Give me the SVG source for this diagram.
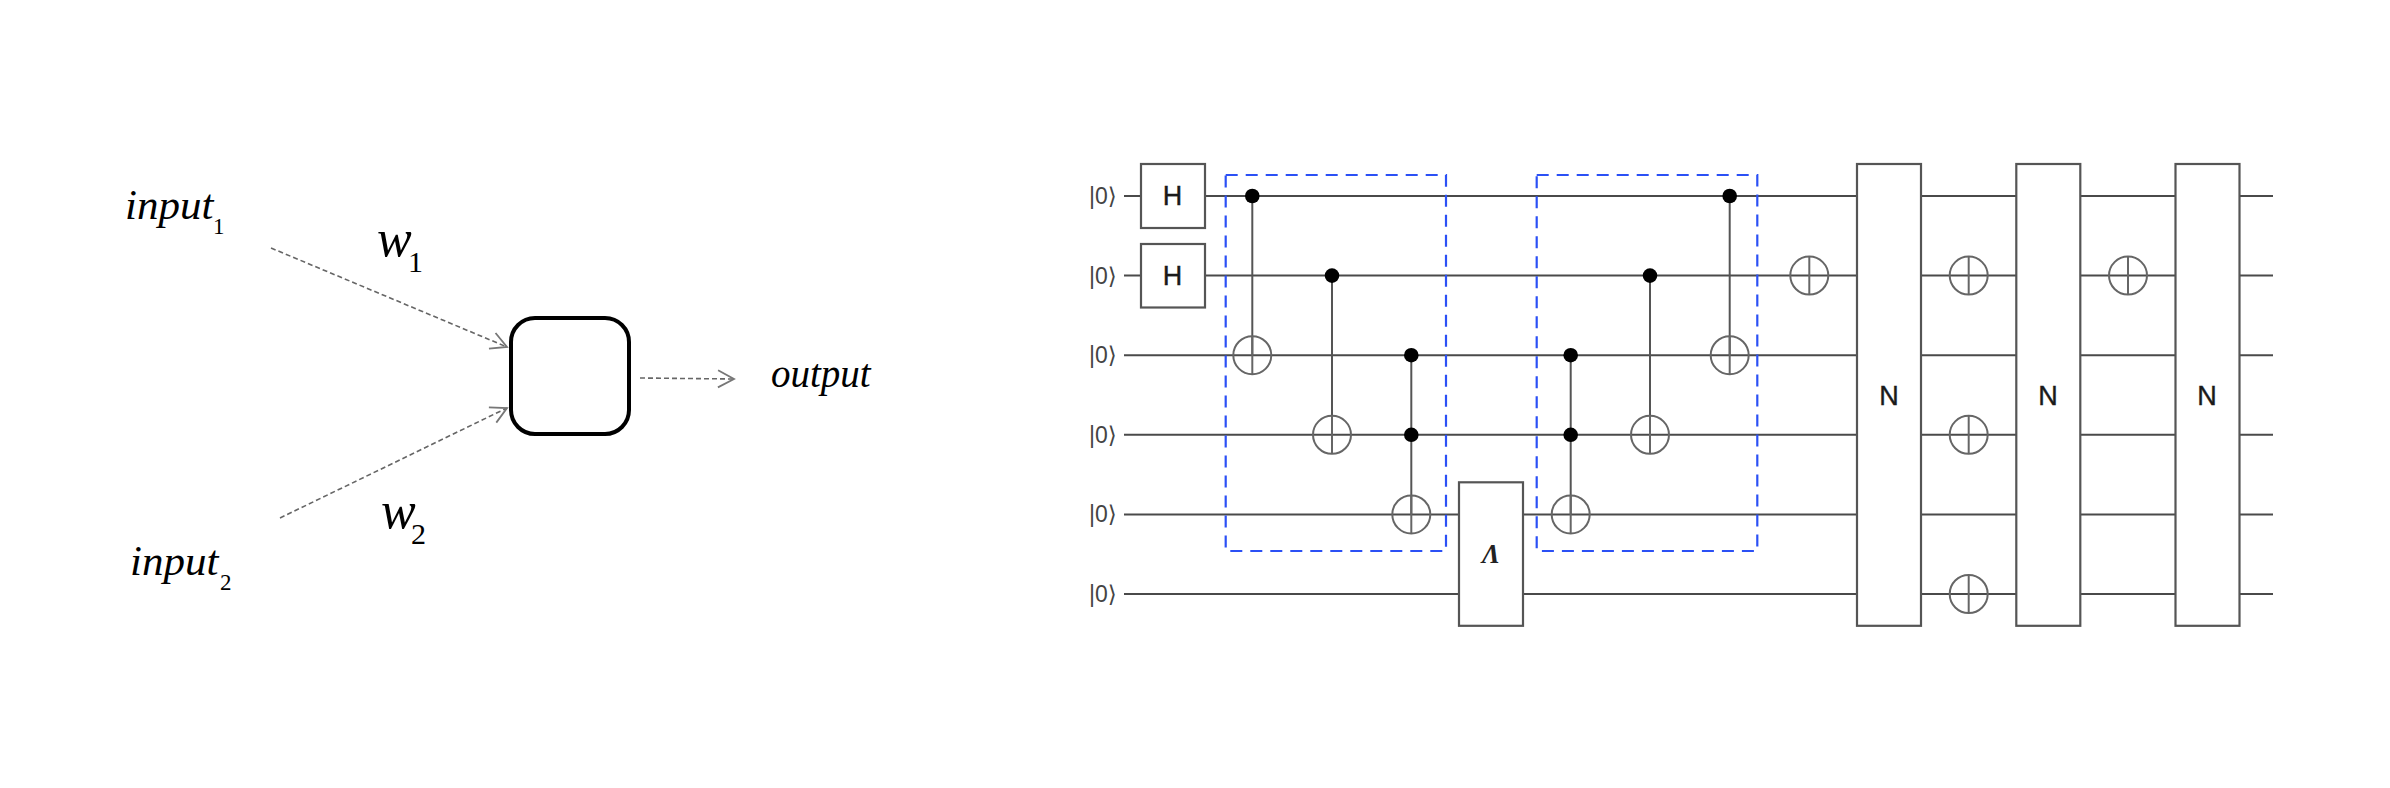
<svg xmlns="http://www.w3.org/2000/svg" width="2390" height="788" viewBox="0 0 2390 788">
<style>
.bg{fill:#fff}
.wire{stroke:#4a4a4a;stroke-width:2;fill:none}
.ctrl{stroke:#555;stroke-width:2;fill:none}
.gate{fill:#fff;stroke:#555;stroke-width:2.200}
.frame{fill:none;stroke:#2b50f5;stroke-width:2.200;stroke-dasharray:12 8}
.xor{fill:none;stroke:#666;stroke-width:2}
.dot{fill:#000}
.flow{stroke:#666;stroke-width:1.600;stroke-dasharray:5 3;fill:none;marker-end:url(#open)}
.neuron{fill:#fff;stroke:#000;stroke-width:4}
.serif{font-family:"Liberation Serif","Times New Roman",serif;font-style:italic;fill:#000}
.sub{font-family:"Liberation Serif","Times New Roman",serif;fill:#000}
.ket{font-family:"Liberation Sans","DejaVu Sans",sans-serif;font-size:23px;fill:#444}
.glabel{font-family:"Liberation Sans",Arial,sans-serif;font-size:27px;fill:#1a1a1a;stroke:#1a1a1a;stroke-width:0.400;text-anchor:middle}
.lam{font-family:"Liberation Serif","Times New Roman",serif;font-size:27px;font-weight:bold;font-style:italic;text-anchor:middle;fill:#222}
</style>
<defs>
<marker id="open" markerUnits="userSpaceOnUse" markerWidth="24" markerHeight="24" refX="20" refY="12" viewBox="0 0 24 24" orient="auto" overflow="visible">
<path d="M4 3.500L20 12L4 20.500" fill="none" stroke="#777" stroke-width="1.800"/>
</marker>
<g id="plus"><circle class="xor" r="19"/><line class="xor" x1="0" y1="-19" x2="0" y2="19"/></g>
<circle id="ctl" class="dot" r="7.300"/>
</defs>
<rect class="bg" x="0" y="0" width="2390" height="788"/>
<g id="connectors">
<line class="flow" x1="271" y1="248" x2="507" y2="347"/>
<line class="flow" x1="280" y1="518" x2="507" y2="408"/>
<line class="flow" x1="640" y1="378" x2="734" y2="379"/>
<line class="wire" x1="1124" y1="196" x2="2273" y2="196"/>
<line class="wire" x1="1124" y1="275.600" x2="2273" y2="275.600"/>
<line class="wire" x1="1124" y1="355.200" x2="2273" y2="355.200"/>
<line class="wire" x1="1124" y1="434.800" x2="2273" y2="434.800"/>
<line class="wire" x1="1124" y1="514.400" x2="2273" y2="514.400"/>
<line class="wire" x1="1124" y1="594" x2="2273" y2="594"/>
<line class="ctrl" x1="1252.300" y1="196" x2="1252.300" y2="355.200"/>
<line class="ctrl" x1="1332" y1="275.600" x2="1332" y2="434.800"/>
<line class="ctrl" x1="1411.300" y1="355.200" x2="1411.300" y2="514.400"/>
<line class="ctrl" x1="1570.700" y1="355.200" x2="1570.700" y2="514.400"/>
<line class="ctrl" x1="1650" y1="275.600" x2="1650" y2="434.800"/>
<line class="ctrl" x1="1729.700" y1="196" x2="1729.700" y2="355.200"/>
</g>
<g id="input1"><text class="serif" x="125" y="219" font-size="43">input</text><text class="sub" x="213" y="234" font-size="23">1</text></g>
<g id="input2"><text class="serif" x="130" y="575" font-size="43">input</text><text class="sub" x="220" y="590" font-size="23">2</text></g>
<g id="w1"><text class="serif" x="377" y="256" font-size="52">w</text><text class="sub" x="408" y="272" font-size="30">1</text></g>
<g id="w2"><text class="serif" x="381" y="528" font-size="52">w</text><text class="sub" x="411" y="544" font-size="30">2</text></g>
<g id="neuron"><rect class="neuron" x="511" y="318" width="118" height="116" rx="24"/></g>
<g id="output"><text class="serif" x="771" y="387" font-size="39">output</text></g>
<g id="kets">
<text class="ket" x="1089" y="204">|0⟩</text>
<text class="ket" x="1089" y="284">|0⟩</text>
<text class="ket" x="1089" y="363">|0⟩</text>
<text class="ket" x="1089" y="443">|0⟩</text>
<text class="ket" x="1089" y="522">|0⟩</text>
<text class="ket" x="1089" y="602">|0⟩</text>
</g>
<g id="H1"><rect class="gate" x="1141" y="164" width="64" height="64"/><text class="glabel" x="1172.500" y="205">H</text></g>
<g id="H2"><rect class="gate" x="1141" y="244" width="64" height="63.500"/><text class="glabel" x="1172.500" y="285">H</text></g>
<g id="cnot-block-1">
<use href="#ctl" x="1252.300" y="196"/><use href="#plus" x="1252.300" y="355.200"/>
<use href="#ctl" x="1332" y="275.600"/><use href="#plus" x="1332" y="434.800"/>
<use href="#ctl" x="1411.300" y="355.200"/><use href="#ctl" x="1411.300" y="434.800"/><use href="#plus" x="1411.300" y="514.400"/>
<rect class="frame" x="1225.700" y="175" width="220.300" height="376"/>
</g>
<g id="Lambda"><rect class="gate" x="1459" y="482.300" width="64" height="143.500"/><text class="lam" x="1491" y="563">Λ</text></g>
<g id="cnot-block-2">
<use href="#ctl" x="1570.700" y="355.200"/><use href="#ctl" x="1570.700" y="434.800"/><use href="#plus" x="1570.700" y="514.400"/>
<use href="#ctl" x="1650" y="275.600"/><use href="#plus" x="1650" y="434.800"/>
<use href="#ctl" x="1729.700" y="196"/><use href="#plus" x="1729.700" y="355.200"/>
<rect class="frame" x="1536.700" y="175" width="220.600" height="376"/>
</g>
<g id="X1"><use href="#plus" x="1809.300" y="275.600"/></g>
<g id="N1"><rect class="gate" x="1857" y="164" width="64" height="461.800"/><text class="glabel" x="1889" y="405">N</text></g>
<g id="X2"><use href="#plus" x="1968.700" y="275.600"/></g>
<g id="X3"><use href="#plus" x="1968.700" y="434.800"/></g>
<g id="X4"><use href="#plus" x="1968.700" y="594"/></g>
<g id="N2"><rect class="gate" x="2016.300" y="164" width="64" height="461.800"/><text class="glabel" x="2048" y="405">N</text></g>
<g id="X5"><use href="#plus" x="2128" y="275.600"/></g>
<g id="N3"><rect class="gate" x="2175.500" y="164" width="64" height="461.800"/><text class="glabel" x="2207" y="405">N</text></g>
</svg>
